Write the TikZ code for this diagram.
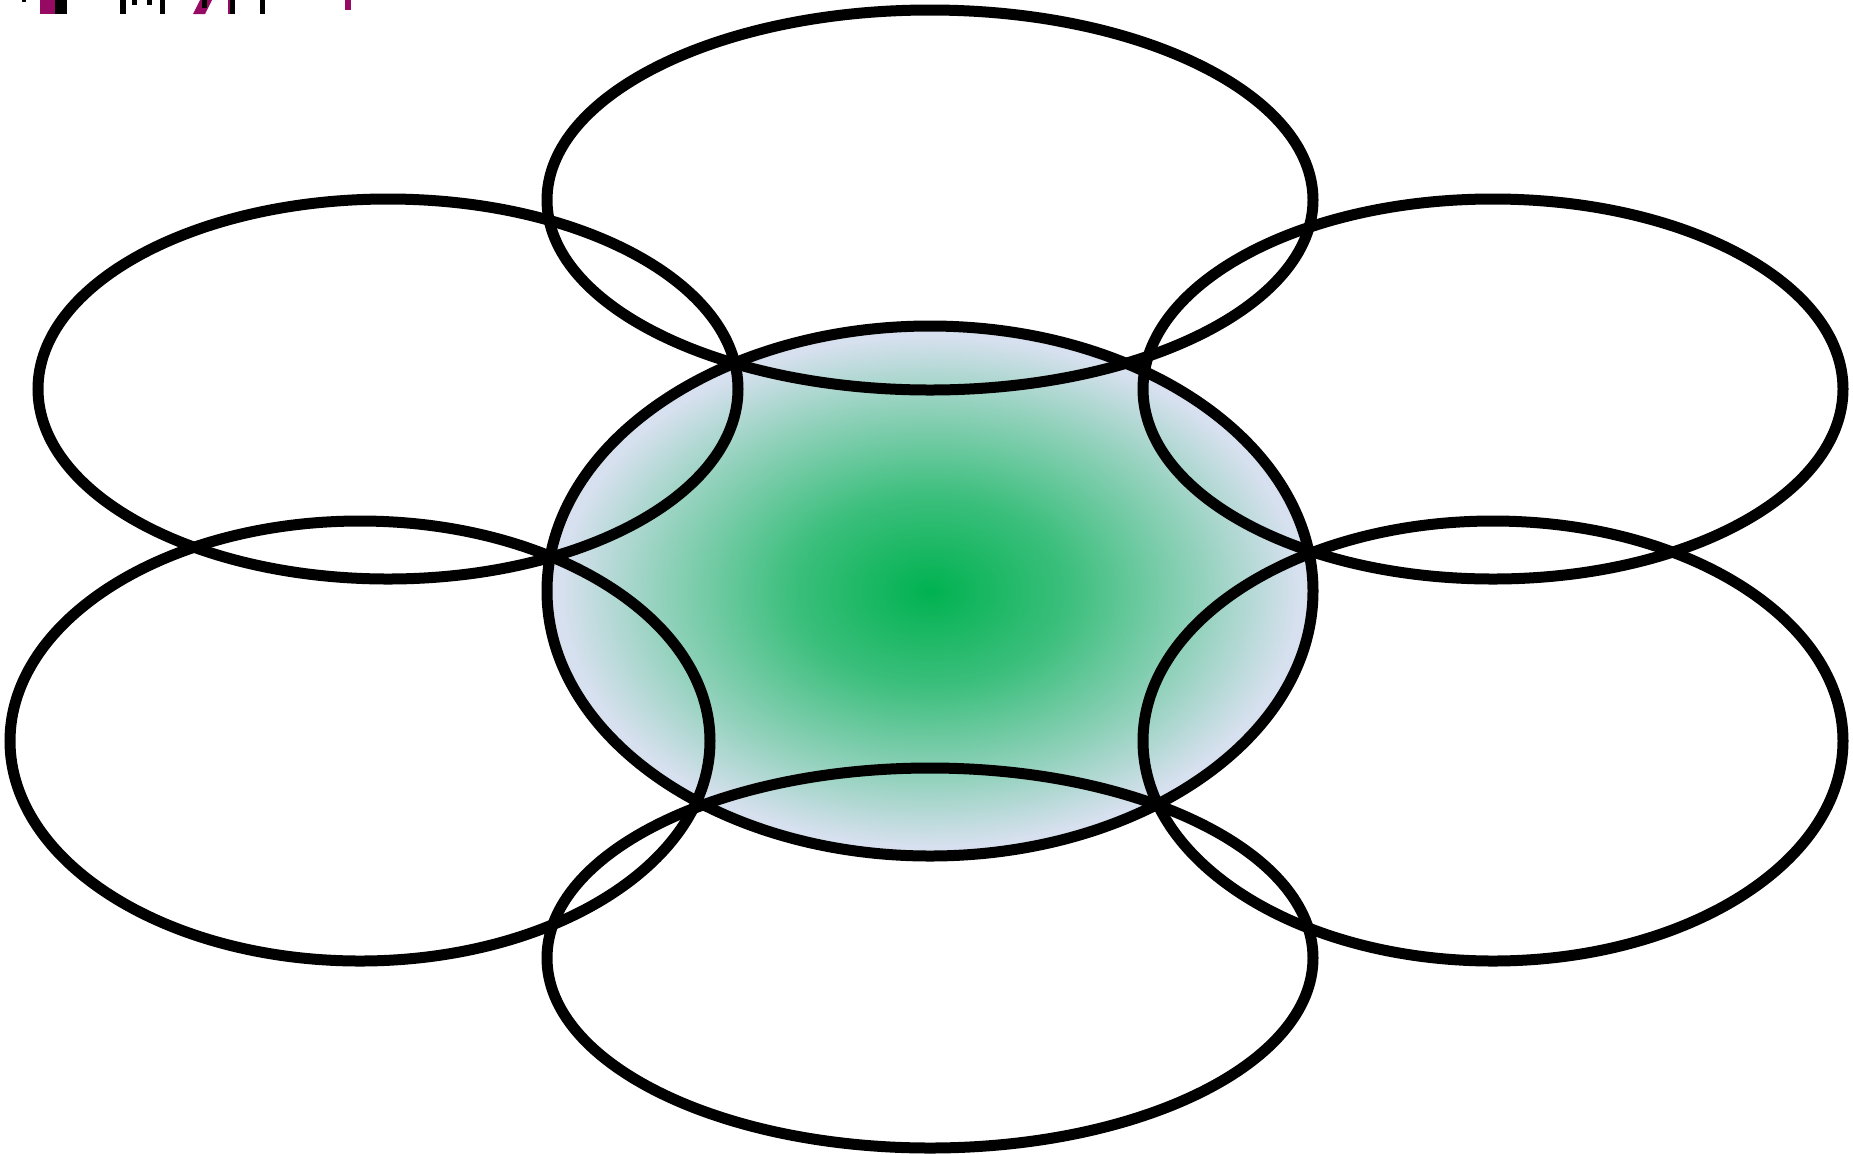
\documentclass[tikz,border=0pt]{standalone}
\usetikzlibrary{shadings}
\definecolor{cgreen}{RGB}{0,178,80}
\definecolor{cblue}{RGB}{214,224,238}
\definecolor{cmag}{RGB}{150,10,100}
\pgfdeclareradialshading{centerglow}{\pgfpoint{0bp}{0bp}}{%
  color(0bp)=(cgreen);
  color(9bp)=(cgreen!72!cblue);
  color(18bp)=(cgreen!30!cblue);
  color(24bp)=(cblue);
  color(50bp)=(cblue)}
\tikzset{ring/.style={draw=black,line width=5.5pt}}
\begin{document}
\begin{tikzpicture}[x=0.5pt,y=-0.5pt]
\useasboundingbox (0,0) rectangle (1853,1153);
% central shaded ellipse
\shade[shading=centerglow] (930,591) ellipse [x radius=383, y radius=265];
% top-left fragments
\fill[cmag] (40,0) rectangle (60,14);
\fill[black] (55,0) rectangle (67,14);
\fill[black] (22,0) rectangle (26,2);
\fill[black] (120,0) rectangle (126,14);
\fill[black] (132,0) rectangle (137,5);
\fill[black] (147,0) rectangle (152,5);
\fill[black] (160,0) rectangle (165,14);
\fill[cmag] (193,14) -- (200,0) -- (212,0) -- (205,14) -- cycle;
\fill[black] (202,0) rectangle (207,8);
\fill[cmag] (228,0) rectangle (235,14);
\fill[black] (230,0) rectangle (235,14);
\fill[black] (260,0) rectangle (265,14);
\fill[cmag] (345,0) rectangle (351,10);
% rings
\draw[ring] (930,591) ellipse [x radius=383, y radius=265];
\draw[ring] (930,200) ellipse [x radius=383, y radius=190];
\draw[ring] (930,958) ellipse [x radius=383, y radius=190];
\draw[ring] (388,389) ellipse [x radius=350, y radius=190];
\draw[ring] (1493,389) ellipse [x radius=350, y radius=190];
\draw[ring] (360,741) ellipse [x radius=350, y radius=220];
\draw[ring] (1493,741) ellipse [x radius=350, y radius=220];
\end{tikzpicture}
\end{document}
